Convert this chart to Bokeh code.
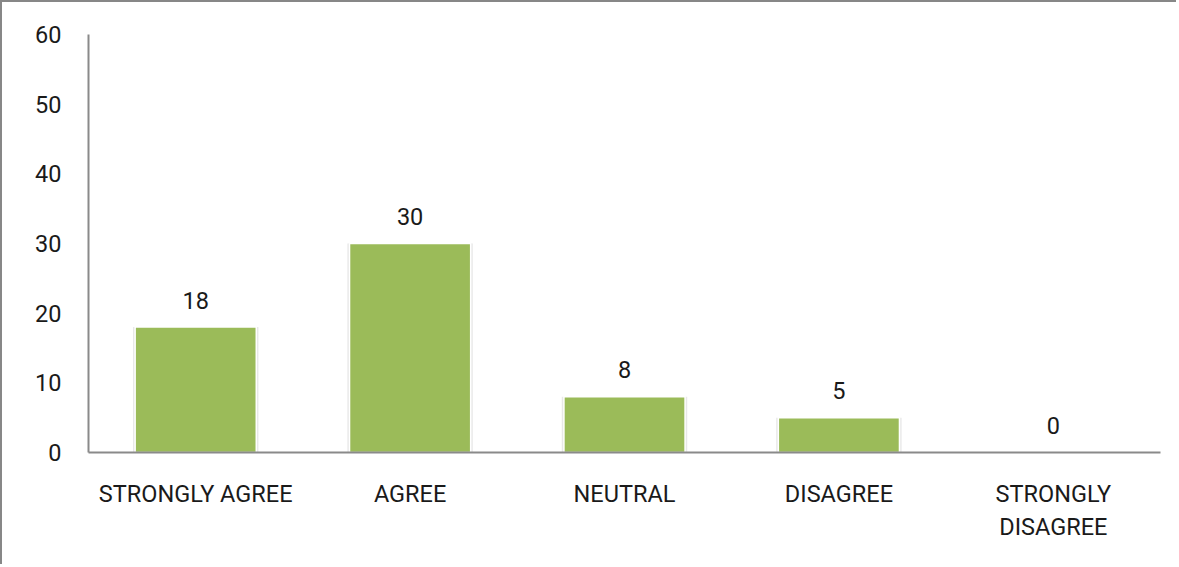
from bokeh.plotting import figure
from bokeh.models import ColumnDataSource, Range1d, FixedTicker
from bokeh.core.properties import value
from bokeh.embed import file_html
from bokeh.resources import INLINE

categories = ["STRONGLY AGREE", "AGREE", "NEUTRAL", "DISAGREE", "STRONGLY\nDISAGREE"]
counts = [18, 30, 8, 5, 0]
y_ticks = [0, 10, 20, 30, 40, 50, 60]

FONT = "Roboto"
FSIZE = "23.5px"
src = ColumnDataSource(dict(cat=categories, val=counts, lab=[str(v) for v in counts]))

p = figure(x_range=categories, y_range=Range1d(0, 60), width=1176, height=564,
           output_backend="svg", toolbar_location=None,
           min_border_left=86, min_border_right=18, min_border_top=32, min_border_bottom=114)
p.styles = {"border-left": "2px solid #878787", "border-top": "2px solid #878787",
            "box-sizing": "border-box"}
p.outline_line_color = None
p.xgrid.grid_line_color = None
p.ygrid.grid_line_color = None
p.x_range.range_padding = 0

# soft shadow + bars
p.vbar(x="cat", top="val", width=0.585, source=src, fill_color="#d9d9d9", fill_alpha=0.6,
       line_color=None)
p.vbar(x="cat", top="val", width=0.565, source=src, fill_color="#9BBB59",
       line_color="white", line_width=1.5)

p.text(x="cat", y="val", text="lab", source=src, text_align="center",
       text_baseline="alphabetic", y_offset=-27, text_font=value(FONT),
       text_font_size=FSIZE, text_color="#1a1a1a")

p.yaxis.ticker = FixedTicker(ticks=y_ticks)
for ax in (p.xaxis, p.yaxis):
    ax.axis_line_color = "#8a8a8a"
    ax.axis_line_width = 2
    ax.major_tick_line_color = None
    ax.minor_tick_line_color = None
    ax.major_label_text_font = FONT
    ax.major_label_text_font_size = FSIZE
    ax.major_label_text_color = "#1a1a1a"
p.yaxis.major_label_standoff = 21
p.xaxis.major_label_standoff = 21

open("out.html", "w").write(file_html(p, INLINE))
